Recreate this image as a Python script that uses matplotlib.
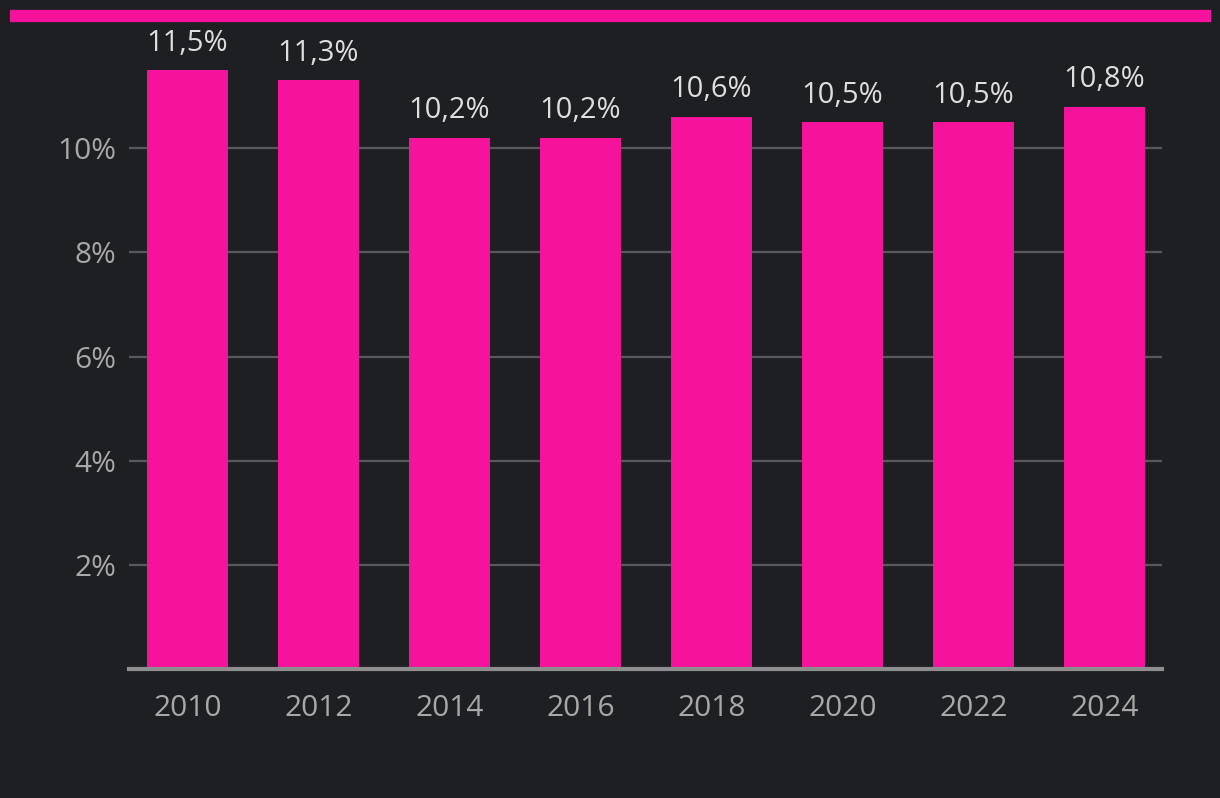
import matplotlib
matplotlib.use("Agg")
import matplotlib.pyplot as plt
from matplotlib.patches import Rectangle

years = ["2010", "2012", "2014", "2016", "2018", "2020", "2022", "2024"]
values = [11.5, 11.3, 10.2, 10.2, 10.6, 10.5, 10.5, 10.8]
labels = ["11,5%", "11,3%", "10,2%", "10,2%", "10,6%", "10,5%", "10,5%", "10,8%"]
yticks = [2, 4, 6, 8, 10]
ytick_labels = ["2%", "4%", "6%", "8%", "10%"]

BG = "#1e1f22"
PINK = "#f5139b"
plt.rcParams['font.family'] = ['Open Sans', 'DejaVu Sans']

fig = plt.figure(figsize=(12.2, 7.98), dpi=100, facecolor=BG)
W, H = 1220, 798
ax = fig.add_axes([129 / W, 1 - 669 / H, (1162 - 129) / W, (669 - 44) / H])
ax.set_facecolor(BG)

fig.patches.append(Rectangle((10 / W, 1 - 21 / H), 1200 / W, 11 / H,
                             transform=fig.transFigure, color=PINK, zorder=5))

x = list(range(len(years)))
ax.bar(x, values, width=0.62, color=PINK, zorder=3)
for xi, v, lab in zip(x, values, labels):
    ax.annotate(lab, (xi, v), xytext=(0, 9), textcoords="offset points",
                ha="center", va="bottom", color="#dedede", fontsize=21,
                annotation_clip=False)

ax.set_xlim(-0.447, 7.44)
ax.set_ylim(0, 12)
ax.set_yticks(yticks)
ax.set_yticklabels(ytick_labels)
ax.set_xticks(x)
ax.set_xticklabels(years)
ax.grid(axis="y", color="#58595c", linewidth=1.6, zorder=0)
ax.tick_params(axis="both", length=0, colors="#a8a8a8", labelsize=21.5)
ax.tick_params(axis="x", pad=18)
ax.tick_params(axis="y", pad=9)
for s in ["top", "right", "left"]:
    ax.spines[s].set_visible(False)
ax.spines["bottom"].set_color("#8e8e8e")
ax.spines["bottom"].set_linewidth(3)
ax.spines["bottom"].set_zorder(4)

fig.savefig("out.png", dpi=100, facecolor=BG)
